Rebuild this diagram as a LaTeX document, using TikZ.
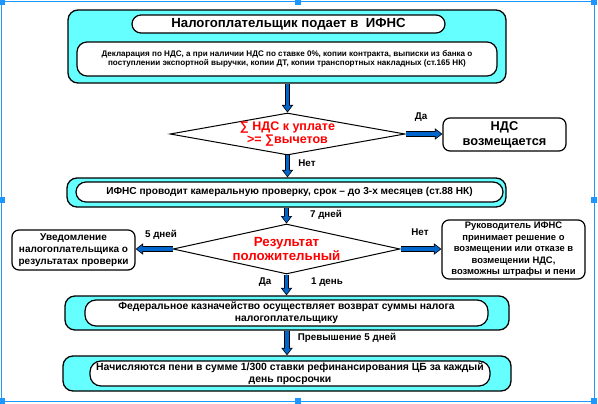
\documentclass[tikz,border=0pt]{standalone}
\usepackage{fontspec}
\setmainfont{Liberation Sans}
\usetikzlibrary{shapes.geometric}
\usetikzlibrary{arrows.meta}
\definecolor{boxcyan}{RGB}{102,255,255}
\definecolor{arrowblue}{RGB}{0,102,204}
\definecolor{frameblue}{RGB}{30,150,255}
\newcommand{\fsz}[2]{\fontsize{#1}{#2}\selectfont\bfseries}

\begin{document}
\begin{tikzpicture}[x=1pt, y=-1pt,
  outerbox/.style={draw, line width=1.3pt, fill=boxcyan, rounded corners=10pt, inner sep=0pt},
  innerbox/.style={draw, line width=1.2pt, fill=white, rounded corners=10pt, align=center, inner sep=0pt},
  sidebox/.style={draw, line width=1.2pt, fill=white, rounded corners=7pt, align=center, inner sep=0pt},
  decide/.style={draw, diamond, line width=1pt, fill=white, inner sep=0pt},
  flow/.style={draw=arrowblue, line width=3.2pt, shorten >=1.3pt, -{Triangle[length=5.5pt,width=8.5pt,line width=0pt]},
    preaction={draw=black, line width=5.2pt, shorten >=0pt, -{Triangle[length=7.5pt,width=11.5pt,line width=0pt]}}},
  lbl/.style={font=\fsz{9.8}{11}},
  handle/.style={fill=frameblue, minimum size=5.5pt, inner sep=0pt}]

\useasboundingbox (0,0) rectangle (598,404);

% frame of the picture
\draw[frameblue, line width=1.8pt] (1.5,1.5) rectangle (594.5,401.5);
\foreach \hx/\hy [count=\i] in {2.5/2.5, 298/2.5, 594/2.5, 2.5/200, 594/200, 2.5/401, 298/401, 594/401}
  \node[handle] (h\i) at (\hx,\hy) {};

% first step
\node[outerbox, minimum width=438pt, minimum height=73pt] (submit) at (287,46.5) {};
\node[innerbox, rounded corners=9pt, minimum width=313pt, minimum height=18pt, font=\fsz{13.2}{15}] (title) at (288.5,24) {Налогоплательщик подает в\ \ ИФНС};
\node[innerbox, minimum width=420pt, minimum height=34pt, font=\fsz{8.1}{9}] (docs) at (287,59)
  {Декларация по НДС, а при наличии НДС по ставке 0\%, копии контракта, выписки из банка о\\
   поступлении экспортной выручки, копии ДТ, копии транспортных накладных (ст.165 НК)};

\node[decide, minimum width=235pt, minimum height=42pt] (sum) at (287.5,134) {};
\node[text=red, align=center, font=\fsz{12.5}{13.5}] (sumtxt) at (sum) {∑ НДС к уплате\\>= ∑вычетов};

\node[sidebox, minimum width=123pt, minimum height=33pt, font=\fsz{12.8}{15}] (refund) at (504.5,134.5) {НДС\\возмещается};

% desk audit
\node[outerbox, minimum width=439pt, minimum height=29pt] (audit) at (286.5,192.5) {};
\node[innerbox, minimum width=427pt, minimum height=20pt, font=\fsz{10.1}{12}] (audittxt) at (289.5,192)
  {ИФНС проводит камеральную проверку, срок -- до 3-х месяцев (ст.88 НК)};

\node[decide, minimum width=227pt, minimum height=50pt] (result) at (286.5,249) {};
\node[text=red, align=center, font=\fsz{13.3}{14}] (resulttxt) at (result) {Результат\\положительный};

\node[sidebox, minimum width=123pt, minimum height=40pt, font=\fsz{10}{12}] (notice) at (73.5,250)
  {Уведомление\\налогоплательщика о\\результатах проверки};
\node[sidebox, minimum width=143pt, minimum height=59pt, font=\fsz{9.4}{11.5}] (chief) at (513.5,249.5)
  {Руководитель ИФНС\\принимает решение о\\возмещении или отказе в\\возмещении НДС,\\возможны штрафы и пени};

% refund and penalty
\node[outerbox, minimum width=444pt, minimum height=34pt] (treasury) at (287,313) {};
\node[innerbox, rounded corners=11pt, minimum width=403pt, minimum height=26pt, font=\fsz{10.3}{11.8}] (treasurytxt) at (286.5,313)
  {Федеральное казначейство осуществляет возврат суммы налога\\налогоплательщику};

\node[outerbox, minimum width=448pt, minimum height=35pt] (penalty) at (287,373.5) {};
\node[innerbox, rounded corners=11pt, minimum width=400pt, minimum height=25pt, font=\fsz{10.4}{12}] (penaltytxt) at (290,373.5)
  {Начисляются пени в сумме 1/300 ставки рефинансирования ЦБ за каждый\\день просрочки};

% connectors
\draw[flow] (submit.south -| sum.north) -- (sum.north);
\draw[flow] (sum.south) -- (sum.south |- audit.north);
\draw[flow] (audit.south -| result.north) -- (result.north);
\draw[flow] (result.south) -- (result.south |- treasury.north);
\draw[flow] (treasury.south) -- (penalty.north);
\draw[flow] (sum.east) -- (refund.west |- sum.east);
\draw[flow] (result.west) -- (notice.east |- result.west);
\draw[flow] (result.east) -- (chief.west |- result.east);

% labels
\node[lbl] (yes1) at (421,117) {Да};
\node[lbl] (no1) at (307,163) {Нет};
\node[lbl] (days7) at (326,215) {7 дней};
\node[lbl] (days5) at (161,235) {5 дней};
\node[lbl] (no2) at (420,232) {Нет};
\node[lbl] (yes2) at (265,282) {Да};
\node[lbl] (day1) at (327,282) {1 день};
\node[lbl] (late) at (347,338) {Превышение 5 дней};

\end{tikzpicture}
\end{document}
